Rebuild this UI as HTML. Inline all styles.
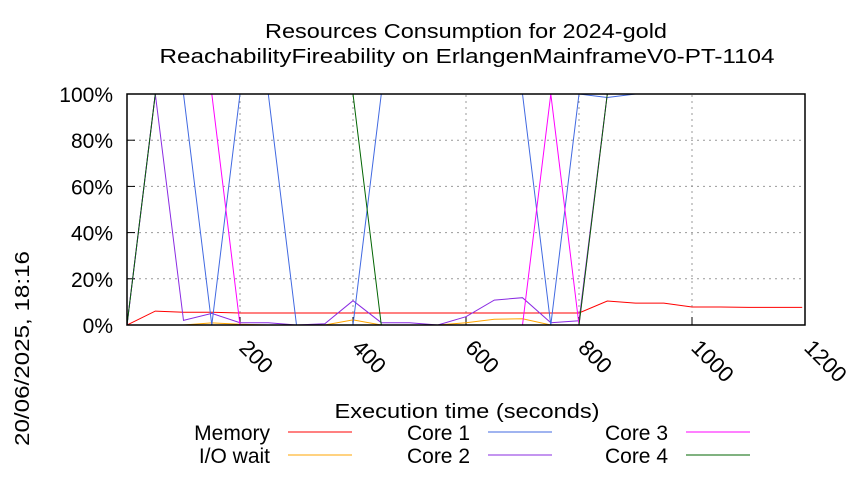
<!DOCTYPE html>
<html><head><meta charset="utf-8"><style>
html,body{margin:0;padding:0;background:#fff;}
svg text{font-family:"Liberation Sans",sans-serif;fill:#000;}
</style></head><body>
<svg id="chart" width="850" height="475" viewBox="0 0 850 475" xmlns="http://www.w3.org/2000/svg">
<text x="466" y="38" font-size="20" text-anchor="middle" textLength="402" lengthAdjust="spacingAndGlyphs">Resources Consumption for 2024-gold</text>
<text x="467" y="63" font-size="20" text-anchor="middle" textLength="615" lengthAdjust="spacingAndGlyphs">ReachabilityFireability on ErlangenMainframeV0-PT-1104</text>
<text transform="translate(29,446) rotate(-90)" font-size="20" textLength="195" lengthAdjust="spacingAndGlyphs">20/06/2025, 18:16</text>
<text x="467" y="418" font-size="20" text-anchor="middle" textLength="265" lengthAdjust="spacingAndGlyphs">Execution time (seconds)</text>
<g id="grid"></g>
<g id="series"></g>
<rect x="127" y="94" width="678" height="231" fill="none" stroke="#000" stroke-width="1.5"/>
<g id="legend"></g>
</svg>
<script>
const times = [0,50,100,150,200,250,300,350,400,450,500,550,600,650,700,750,800,850,900,950,1000,1050,1100,1150,1195];
const memory = [0,6,5.5,5.5,5.2,5.2,5.2,5.2,5.2,5.2,5.2,5.2,5.2,5.2,5.2,5.2,5.2,10.4,9.5,9.5,7.8,7.8,7.6,7.6,7.6];
const ioWait = [0,0,0,0.9,0.3,0,0,0,2.2,0,0,0,1,2.5,2.7,0,0,0,0,0,0,0,0,0,0];
const core1 = [0,100,100,0,100,100,0,0,0,100,100,100,100,100,100,0,100,98.5,100,100,100,100,100,100,100];
const core2 = [0,100,2,5,1,1,0,0.5,10.5,1,1,0,3.6,10.8,11.8,1,1.8,100,100,100,100,100,100,100,100];
const core3 = [0,100,100,100,0,0,0,0,0,0,0,0,0,0,0,100,0,100,100,100,100,100,100,100,100];
const core4 = [0,100,100,100,100,100,100,100,100,0,0,0,0,0,0,0,0,100,100,100,100,100,100,100,100];
const xTicks = [200,400,600,800,1000,1200];
const yTicks = [0,20,40,60,80,100];
const yTickLabels = ["0%","20%","40%","60%","80%","100%"];

const NS="http://www.w3.org/2000/svg";
const X0=127,X1=805,Y0=325,Y1=94;
const xs=t=>X0+(t/1200)*(X1-X0);
const ys=v=>Y0-(v/100)*(Y0-Y1);
function mk(tag,attrs,parent){const e=document.createElementNS(NS,tag);for(const k in attrs)e.setAttribute(k,attrs[k]);parent.appendChild(e);return e;}
const grid=document.getElementById('grid');
xTicks.forEach(t=>{
  const l=mk('line',{x1:xs(t),x2:xs(t),y1:Y0,y2:Y1,stroke:'#999','stroke-dasharray':'2,4'},grid);
  
  
  const tk=mk('line',{x1:xs(t),x2:xs(t),y1:Y0,y2:Y0-8,stroke:'#000'},grid);
  
  
  const tx=mk('text',{transform:`translate(${xs(t)-2},${Y0+24}) rotate(45)`,'font-size':'22'},grid);
  tx.textContent=t;
  
  
});
yTicks.forEach((v,i)=>{
  const l=mk('line',{x1:X0,x2:X1,y1:ys(v),y2:ys(v),stroke:'#999','stroke-dasharray':'2,4'},grid);
  
  
  const tk=mk('line',{x1:X0,x2:X0+8,y1:ys(v),y2:ys(v),stroke:'#000'},grid);
  
  
  const tx=mk('text',{x:X0-14,y:ys(v)+8,'font-size':'21','text-anchor':'end'},grid);
  tx.textContent=yTickLabels[i];
  
  
});
const series=[
  {name:'Memory',data:memory,color:'#ff0000',lx:270,ly:432,key:'memory'},
  {name:'I/O wait',data:ioWait,color:'#ffa500',lx:270,ly:455,key:'io-wait'},
  {name:'Core 1',data:core1,color:'#4169e1',lx:470,ly:432,key:'core-1'},
  {name:'Core 2',data:core2,color:'#8a2be2',lx:470,ly:455,key:'core-2'},
  {name:'Core 3',data:core3,color:'#ff00ff',lx:668,ly:432,key:'core-3'},
  {name:'Core 4',data:core4,color:'#006400',lx:668,ly:455,key:'core-4'}
];
const sg=document.getElementById('series'),lg=document.getElementById('legend');
[series[1],series[0],series[3],series[2],series[4],series[5]].forEach(s=>{
  const pts=s.data.map((v,i)=>xs(times[i]).toFixed(1)+','+ys(v).toFixed(1)).join(' ');
  const p=mk('polyline',{points:pts,fill:'none',stroke:s.color,'stroke-width':'1'},sg);
  
  
});
series.forEach(s=>{
  const t=mk('text',{x:s.lx,y:s.ly+8,'font-size':'21','text-anchor':'end'},lg);
  t.textContent=s.name;
  
  
  const l=mk('line',{x1:s.lx+18,x2:s.lx+82,y1:s.ly,y2:s.ly,stroke:s.color,'stroke-width':'1'},lg);
  
  
});
</script>
</body></html>
